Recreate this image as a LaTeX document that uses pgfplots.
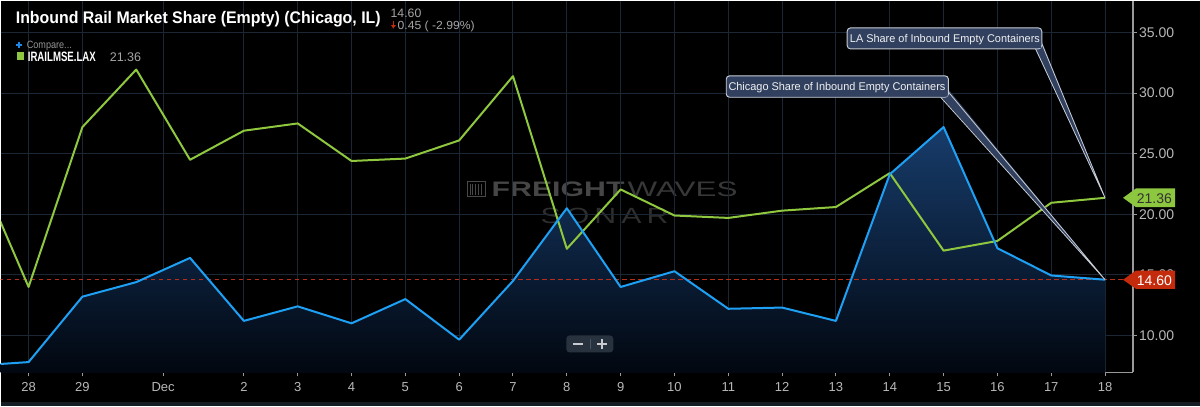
\documentclass[border=0pt]{standalone}
\usepackage{pgfplots}
\pgfplotsset{compat=1.18}
\usepackage{pgfplotstable}
\usepackage{fontspec}
\setmainfont{Liberation Sans}
\usetikzlibrary{calc}
\definecolor{gridc}{HTML}{1B2734}
\definecolor{axc}{HTML}{9A9A9A}
\definecolor{lblc}{HTML}{B8B8B8}
\definecolor{blueL}{HTML}{1EA0F5}
\definecolor{greenL}{HTML}{8FC73E}
\definecolor{redL}{HTML}{B52E18}
\definecolor{tagred}{HTML}{C42B0C}
\definecolor{tagg}{HTML}{8DC63F}
\definecolor{boxc}{HTML}{30405E}
\definecolor{areaTop}{HTML}{173C6B}
\definecolor{areaBot}{HTML}{01060E}

\pgfplotstableread{
x g b
-1 24.3 7.5
0 14.0 7.8
1 27.2 13.2
2 31.95 14.4
3 24.5 16.4
4 26.9 11.2
5 27.5 12.4
6 24.4 11.0
7 24.6 13.0
8 26.1 9.65
9 31.4 14.5
10 17.15 20.5
11 22.05 14.0
12 19.9 15.3
13 19.7 12.2
14 20.3 12.3
15 20.6 11.2
16 23.4 23.3
17 17.0 27.2
18 17.8 17.2
19 20.95 14.95
20 21.36 14.60
}\data

\pgfplotstableread{
x b
-1 6.5
-1 7.5
0 7.8
1 13.2
2 14.4
3 16.4
4 11.2
5 12.4
6 11.0
7 13.0
8 9.65
9 14.5
10 20.5
11 14.0
12 15.3
13 12.2
14 12.3
15 11.2
16 23.3
17 27.2
18 17.2
19 14.95
20 14.60
20 6.5
}\areadata

\begin{document}
\begin{tikzpicture}
% background
\begin{scope}[x=0.75pt,y=-0.75pt]
\fill[black] (0,0) rectangle (1200,406);
\path[use as bounding box] (0,0) rectangle (1200,406);
\fill[fill={rgb,255:red,21;green,28;blue,36}] (0,402) rectangle (1200,406);
% watermark
\draw[color={rgb,255:red,72;green,72;blue,72}, line width=0.8pt] (467,181) rectangle (485,196);
\foreach \xx in {470,472.5,475,478,481} {\draw[color={rgb,255:red,72;green,72;blue,72}, line width=0.9pt] (\xx,183) -- (\xx,194);}
\node[anchor=base west, inner sep=0, text={rgb,255:red,70;green,70;blue,70}] at (491,196)
  {\resizebox{99.75pt}{\height}{\fontsize{15.75}{18}\selectfont\bfseries FREIGHT}};
\node[anchor=base west, inner sep=0, text={rgb,255:red,56;green,56;blue,56}] at (627,196)
  {\resizebox{82.5pt}{\height}{\fontsize{15.75}{18}\selectfont WAVES}};
\node[anchor=base west, inner sep=0, text={rgb,255:red,46;green,46;blue,46}] at (540,223)
  {\resizebox{96pt}{\height}{\fontsize{16.5}{18}\selectfont S\,O\,N\,A\,R}};
\end{scope}

\begin{axis}[
  at={(0pt,-279pt)}, anchor=south west,
  width=849.75pt, height=279pt, scale only axis,
  xmin=-0.52, xmax=20.52, ymin=6.947, ymax=37.64,
  axis x line=bottom, axis y line=right,
  axis line style={draw=axc, line width=0.9pt, -},
  tick align=outside, major tick length=3pt,
  tick style={draw=axc, line width=0.75pt},
  grid=major, major grid style={draw=gridc, line width=0.75pt},
  xtick={0,1,2.5,4,5,6,7,8,9,10,11,12,13,14,15,16,17,18,19,20},
  xticklabels={28,29,Dec,2,3,4,5,6,7,8,9,10,11,12,13,14,15,16,17,18},
  ytick={10,15,20,25,30,35},
  /pgf/number format/assume math mode=true,
  yticklabel={\pgfmathprintnumber[fixed,fixed zerofill,precision=2]{\tick}},
  xticklabel style={font=\fontsize{9.75}{11}\selectfont, text=lblc, yshift=-1pt},
  yticklabel style={font=\fontsize{10.5}{12}\selectfont, text=lblc, xshift=-2pt},
]
\addplot[draw=none, top color=areaTop, bottom color=areaBot] table[x=x,y=b]{\areadata};
\addplot[redL, line width=0.9pt, dash pattern=on 3.5pt off 2.5pt] coordinates {(-1,14.6) (21,14.6)};
\addplot[greenL, line width=1.5pt, line join=round] table[x=x,y=g]{\data};
\addplot[blueL, line width=1.5pt, line join=round] table[x=x,y=b]{\data};
\coordinate (gEnd) at (axis cs:20,21.36);
\coordinate (bEnd) at (axis cs:20,14.60);
\end{axis}

\begin{scope}[x=0.75pt,y=-0.75pt]
\definecolor{bord}{HTML}{C8CDD6}
% LA callout
\fill[boxc] (1034,46) -- (gEnd) -- (1041.7,41) -- cycle;
\draw[bord, line width=0.6pt] (1035.5,48.3) -- (gEnd) -- (1041.7,43);
\filldraw[fill=boxc, draw=bord, line width=0.7pt, rounded corners=2.5pt] (847,27.3) rectangle (1041.7,48.3);
\fill[boxc] (1035.8,47.6) -- (1041,42.5) -- (1041,47.6) -- cycle;
\node[anchor=base west, inner sep=0, text={rgb,255:red,240;green,240;blue,240}] at (849.5,42)
  {\resizebox{142.5pt}{\height}{\fontsize{8.4}{10}\selectfont LA Share of Inbound Empty Containers}};
% Chicago callout
\fill[boxc] (939,94) -- (bEnd) -- (948.3,89) -- cycle;
\draw[bord, line width=0.6pt] (940.5,96.7) -- (bEnd) -- (948.3,91.5);
\filldraw[fill=boxc, draw=bord, line width=0.7pt, rounded corners=2.5pt] (726,75.3) rectangle (948.3,96.7);
\fill[boxc] (940.8,96) -- (947.6,91) -- (947.6,96) -- cycle;
\node[anchor=base west, inner sep=0, text={rgb,255:red,240;green,240;blue,240}] at (728,90.3)
  {\resizebox{162.75pt}{\height}{\fontsize{8.4}{10}\selectfont Chicago Share of Inbound Empty Containers}};
% tags
\coordinate (tx) at (1123,0);
\fill[tagg] (gEnd -| tx) -- ++(13,-9.4) -- ++(39,0) -- ++(0,18.8) -- ++(-39,0) -- cycle;
\node[anchor=west, inner sep=0, text={rgb,255:red,50;green,50;blue,50}] at ($(gEnd -| tx)+(13.5,0.5)$)
  {\fontsize{10.5}{12}\selectfont 21.36};
\fill[tagred] (bEnd -| tx) -- ++(13,-9.2) -- ++(39,0) -- ++(0,18.4) -- ++(-39,0) -- cycle;
\node[anchor=west, inner sep=0, text=white] at ($(bEnd -| tx)+(13.5,0.5)$)
  {\fontsize{10.5}{12}\selectfont 14.60};
% title
\node[anchor=base west, inner sep=0, text=white] at (15,22.5)
  {\resizebox{273.75pt}{\height}{\fontsize{12.6}{14}\selectfont\bfseries Inbound Rail Market Share (Empty) (Chicago, IL)}};
\node[anchor=base west, inner sep=0, text={rgb,255:red,165;green,165;blue,165}] at (390,16.8)
  {\fontsize{9.2}{11}\selectfont 14.60};
\draw[tagred, line width=1.1pt] (393,20.5) -- (393,25);
\fill[tagred] (390.6,24.5) -- (395.4,24.5) -- (393,28) -- cycle;
\node[anchor=base west, inner sep=0, text={rgb,255:red,165;green,165;blue,165}] at (397,29)
  {\resizebox{57.75pt}{\height}{\fontsize{8.8}{10}\selectfont 0.45 ( -2.99\%)}};
% legend
\draw[color={rgb,255:red,30;green,136;blue,229}, line width=1.2pt] (15,44.2) -- (21.5,44.2) (18.25,41) -- (18.25,47.4);
\node[anchor=base west, inner sep=0, text={rgb,255:red,150;green,150;blue,150}] at (26,47.6)
  {\resizebox{33.75pt}{\height}{\fontsize{7.9}{9}\selectfont Compare...}};
\fill[tagg] (16,51.5) rectangle (23,59.5);
\node[anchor=base west, inner sep=0, text=white] at (27,60.6)
  {\resizebox{51pt}{\height}{\fontsize{10.2}{12}\selectfont\bfseries IRAILMSE.LAX}};
\node[anchor=base west, inner sep=0, text={rgb,255:red,165;green,165;blue,165}] at (109,61)
  {\fontsize{9.4}{11}\selectfont 21.36};
% zoom control
\fill[color={rgb,255:red,40;green,50;blue,62}, rounded corners=2.5pt] (566,335) rectangle (613,352);
\draw[color={rgb,255:red,200;green,204;blue,210}, line width=1.5pt] (572.5,343.5) -- (582.5,343.5);
\draw[color={rgb,255:red,72;green,84;blue,98}, line width=0.6pt] (590.3,339) -- (590.3,349);
\draw[color={rgb,255:red,200;green,204;blue,210}, line width=1.5pt] (597,343.5) -- (606.5,343.5) (601.75,338.8) -- (601.75,348.2);
\end{scope}
\end{tikzpicture}
\end{document}
